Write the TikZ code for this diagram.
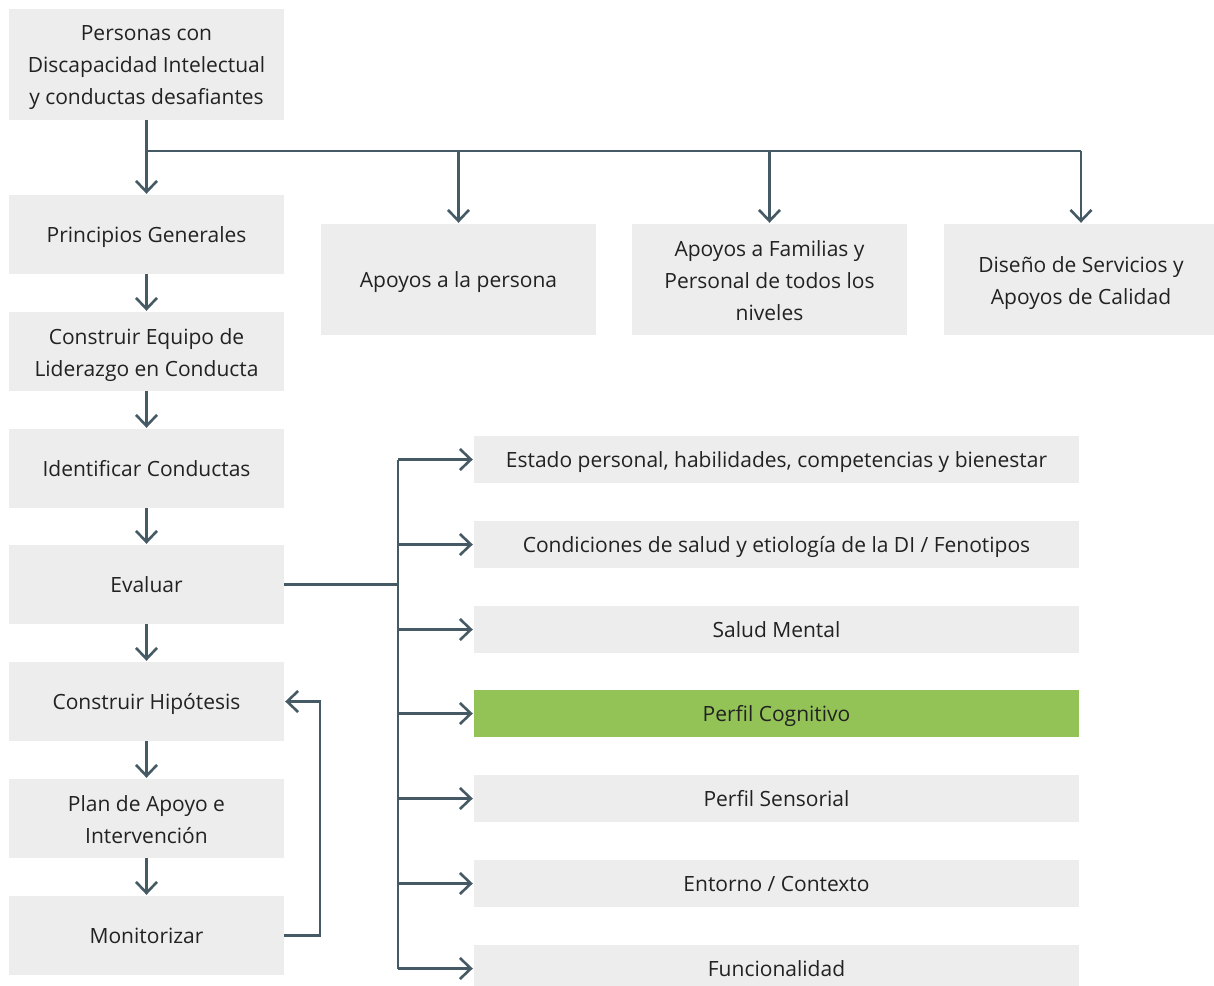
\documentclass[tikz,border=0pt]{standalone}
\usepackage{fontspec}
\setmainfont{Open Sans}
\usetikzlibrary{arrows.meta}
\definecolor{boxgray}{HTML}{EDEDED}
\definecolor{linecol}{HTML}{455A64}
\definecolor{txtcol}{HTML}{222222}
\definecolor{hilite}{HTML}{93C356}
\begin{document}
\begin{tikzpicture}[x=1pt,y=-1pt,
  box/.style={fill=boxgray, draw=none, inner sep=0pt},
  tx/.style={align=center, text=txtcol, inner sep=0pt, yshift=-1.1pt,
    font=\fontsize{21}{32}\selectfont,
    execute at begin node=\strut, execute at end node=\strut},
  txm/.style={tx, yshift=-4.3pt},
  leftbox/.style={box, minimum width=275pt, minimum height=79pt},
  topbox/.style={box, minimum width=275pt, minimum height=111pt},
  listbox/.style={box, minimum width=605pt, minimum height=47pt},
  conn/.style={draw=linecol, line width=2.6pt},
  arr/.style={conn, -{Straight Barb[length=11pt,width=21pt,line width=2.6pt]}, shorten >=1pt}]
\useasboundingbox (0,0) rectangle (1214,985);

% main column
\node[topbox, label={[txm]center:{Personas con\\Discapacidad Intelectual\\y conductas desafiantes}}] (pcd) at (146.5,64.5) {};
\node[leftbox, label={[tx]center:{Principios Generales}}] (pg) at (146.5,234.5) {};
\node[leftbox, label={[txm]center:{Construir Equipo de\\Liderazgo en Conducta}}] (ce) at (146.5,351.5) {};
\node[leftbox, label={[tx]center:{Identificar Conductas}}] (ic) at (146.5,468.5) {};
\node[leftbox, label={[tx]center:{Evaluar}}] (ev) at (146.5,584.5) {};
\node[leftbox, label={[tx]center:{Construir Hipótesis}}] (ch) at (146.5,701.5) {};
\node[leftbox, label={[txm]center:{Plan de Apoyo e\\Intervención}}] (pa) at (146.5,818.5) {};
\node[leftbox, label={[tx]center:{Monitorizar}}] (mo) at (146.5,935.5) {};

% top row of supports
\node[topbox, label={[tx]center:{Apoyos a la persona}}] (ap) at (458.5,279.5) {};
\node[topbox, label={[txm]center:{Apoyos a Familias y\\Personal de todos los\\niveles}}] (af) at (769.5,279.5) {};
\node[topbox, minimum width=270pt, label={[txm,xshift=2pt]center:{Diseño de Servicios y\\Apoyos de Calidad}}] (ds) at (1079,279.5) {};

% assessment areas
\node[listbox, label={[tx]center:{Estado personal, habilidades, competencias y bienestar}}] (l1) at (776.5,459.5) {};
\node[listbox, label={[tx]center:{Condiciones de salud y etiología de la DI / Fenotipos}}] (l2) at (776.5,544.5) {};
\node[listbox, label={[tx]center:{Salud Mental}}] (l3) at (776.5,629.5) {};
\node[listbox, fill=hilite, label={[tx]center:{Perfil Cognitivo}}] (l4) at (776.5,713.5) {};
\node[listbox, label={[tx]center:{Perfil Sensorial}}] (l5) at (776.5,798.5) {};
\node[listbox, label={[tx]center:{Entorno / Contexto}}] (l6) at (776.5,883.5) {};
\node[listbox, label={[tx]center:{Funcionalidad}}] (l7) at (776.5,968.5) {};

% branching from the top box
\coordinate (hb) at (146.5,151);
\coordinate (he) at (1081,151);
\draw[conn] (pcd.south) -- (hb) -- (he);
\draw[arr] (hb) -- (pg.north);
\draw[arr] (ap.north |- hb) -- (ap.north);
\draw[arr] (af.north |- hb) -- (af.north);
\draw[arr] (he) -- (he |- ds.north);

% main sequence
\draw[arr] (pg) -- (ce);
\draw[arr] (ce) -- (ic);
\draw[arr] (ic) -- (ev);
\draw[arr] (ev) -- (ch);
\draw[arr] (ch) -- (pa);
\draw[arr] (pa) -- (mo);

% feedback loop
\coordinate (fb) at (320,935.5);
\draw[arr] (mo.east) -- (fb) |- (ch.east);

% assessment trunk
\coordinate (tr) at (398,584.5);
\draw[conn] (ev.east) -- (tr);
\draw[conn] (tr |- l1.west) -- (tr |- l7.west);
\foreach \n in {l1,l2,l3,l4,l5,l6,l7}
  \draw[arr] (tr |- \n.west) -- (\n.west);
\end{tikzpicture}
\end{document}
